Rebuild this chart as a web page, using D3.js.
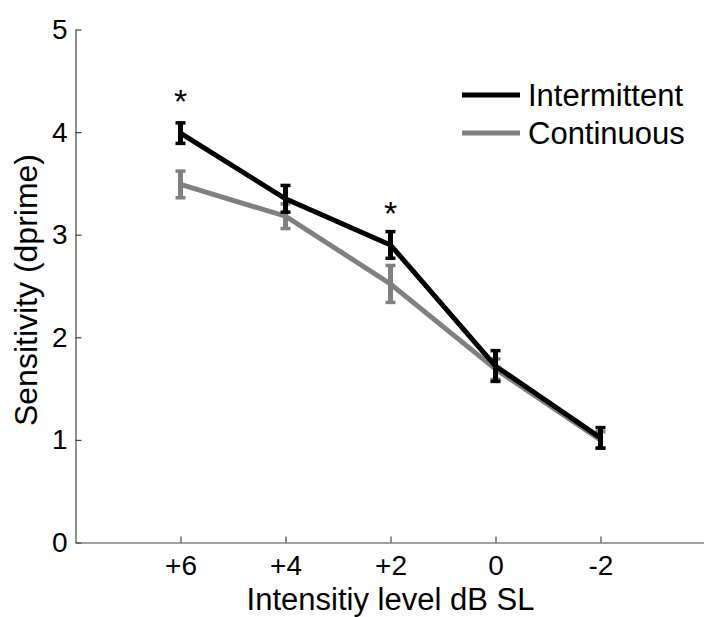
<!DOCTYPE html>
<html lang="en">
<head>
  <meta charset="UTF-8">
  <title>Sensitivity by intensity level</title>
  <script src="https://d3js.org/d3.v7.min.js"></script>
  <style>
    body { margin: 0; background: #fff; font-family: "Liberation Sans", Arial, sans-serif; }
    .tick text { font-family: "Liberation Sans", Arial, sans-serif; }
  </style>
</head>
<body>
<div id="chart"></div>
<script>
// values
const levels = ["+6", "+4", "+2", "0", "-2"];
const intermittent = [3.99, 3.35, 2.90, 1.72, 1.02];
const intermittentErr = [0.10, 0.13, 0.13, 0.15, 0.10];
const continuous = [3.49, 3.18, 2.52, 1.69, 1.00];
const continuousErr = [0.13, 0.12, 0.18, 0.10, 0.08];
const starAt = ["+6", "+2"];
const yTicks = [0, 1, 2, 3, 4, 5];

const width = 704, height = 617;
const mLeft = 75.5, mBottom = 542.5, mTop = 29.5;

const svg = d3.select("#chart")
  .append("svg")
  .attr("width", width)
  .attr("height", height);

// categories sit at 1..5 on a 0..6 axis, like the matlab plot
const x = d3.scaleLinear().domain([0, 6]).range([mLeft, mLeft + 630]);
const pos = d => x(levels.indexOf(d) + 1);
const y = d3.scaleLinear().domain([0, 5]).range([mBottom, mTop]);

const xAxis = svg.append("g")
  .attr("transform", `translate(0,${mBottom})`)
  .call(d3.axisBottom(x)
    .tickValues([1, 2, 3, 4, 5])
    .tickFormat(d => levels[d - 1])
    .tickSizeInner(-6).tickSizeOuter(0).tickPadding(13));

const yAxis = svg.append("g")
  .attr("transform", `translate(${mLeft},0)`)
  .call(d3.axisLeft(y)
    .tickValues(yTicks)
    .tickFormat(d3.format("d"))
    .tickSizeInner(-6).tickSizeOuter(0).tickPadding(8));

[xAxis, yAxis].forEach(a => {
  a.select(".domain").attr("stroke", "#444").attr("stroke-width", 1.2);
  a.selectAll(".tick line").attr("stroke", "#444").attr("stroke-width", 1.2);
  a.selectAll(".tick text").attr("fill", "#000").style("font-size", "28px");
});
xAxis.selectAll(".tick text").attr("dy", "0.71em");

svg.append("text")
  .attr("x", x(3))
  .attr("y", 610)
  .attr("text-anchor", "middle")
  .style("font-size", "31px")
  .text("Intensitiy level dB SL");

svg.append("text")
  .attr("transform", `translate(37,290) rotate(-90)`)
  .attr("text-anchor", "middle")
  .style("font-size", "32px")
  .text("Sensitivity (dprime)");

const series = [
  { name: "Intermittent", values: intermittent, err: intermittentErr, color: "#000" },
  { name: "Continuous", values: continuous, err: continuousErr, color: "#808080" }
];

const line = d3.line()
  .x((d, i) => pos(levels[i]))
  .y(d => y(d));

// draw continuous first so intermittent sits on top
series.slice().reverse().forEach(s => {
  const g = svg.append("g");
  g.append("path")
    .attr("d", line(s.values))
    .attr("fill", "none")
    .attr("stroke", s.color)
    .attr("stroke-width", 5);

  const bars = g.selectAll(".err")
    .data(s.values.map((v, i) => ({ v, e: s.err[i], lv: levels[i] })))
    .enter()
    .append("g");

  bars.append("line")
    .attr("x1", d => pos(d.lv)).attr("x2", d => pos(d.lv))
    .attr("y1", d => y(d.v + d.e)).attr("y2", d => y(d.v - d.e))
    .attr("stroke", s.color).attr("stroke-width", 5);
  [1, -1].forEach(sign => {
    bars.append("line")
      .attr("x1", d => pos(d.lv) - 5).attr("x2", d => pos(d.lv) + 5)
      .attr("y1", d => y(d.v + sign * d.e)).attr("y2", d => y(d.v + sign * d.e))
      .attr("stroke", s.color).attr("stroke-width", 3.5);
  });
});

// significance stars
svg.selectAll(".star")
  .data(starAt)
  .enter()
  .append("text")
  .attr("x", d => pos(d))
  .attr("y", d => y(intermittent[levels.indexOf(d)]) - 20)
  .attr("text-anchor", "middle")
  .style("font-size", "34px")
  .text("*");

// legend
const legend = svg.append("g").attr("transform", "translate(462,95)");
series.forEach((s, i) => {
  const row = legend.append("g").attr("transform", `translate(0,${i * 38})`);
  row.append("line")
    .attr("x1", 0).attr("x2", 58)
    .attr("stroke", s.color).attr("stroke-width", 5);
  row.append("text")
    .attr("x", 66)
    .attr("y", 11)
    .style("font-size", "31px")
    .text(s.name);
});
</script>
</body>
</html>
